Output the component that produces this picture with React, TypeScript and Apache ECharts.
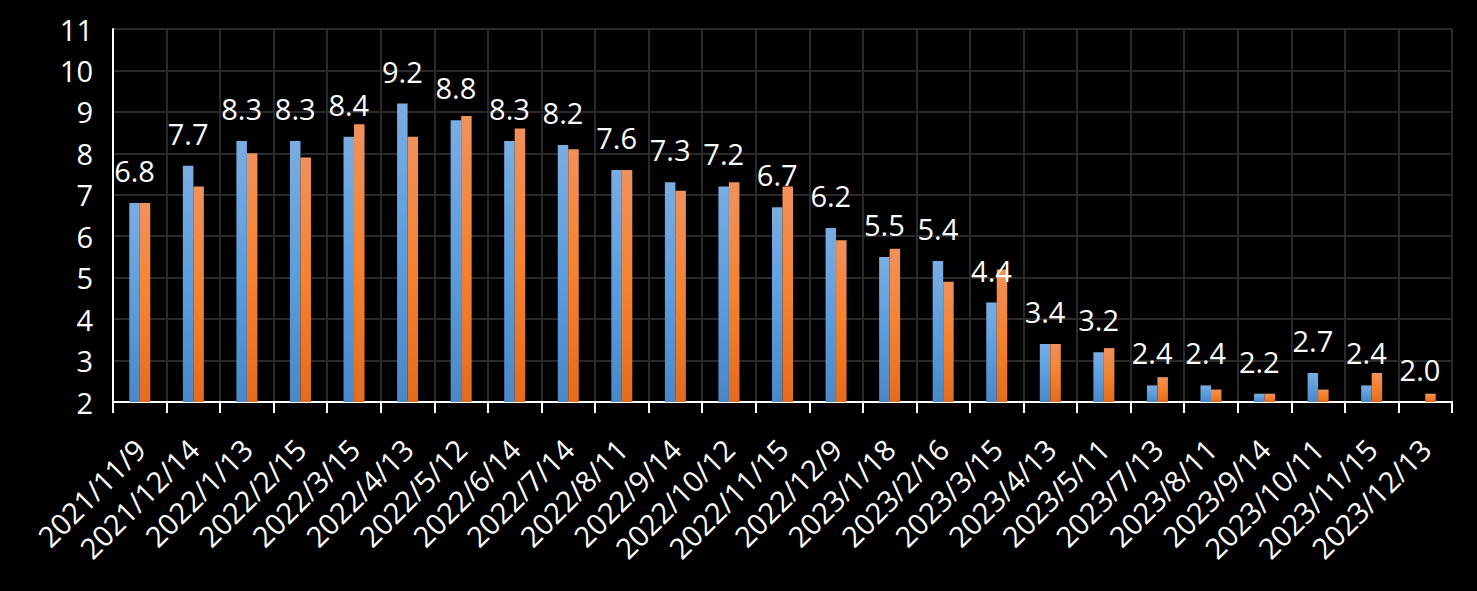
import React, { useEffect, useRef } from "react";
import * as echarts from "echarts";

const categories = [
  "2021/11/9", "2021/12/14", "2022/1/13", "2022/2/15", "2022/3/15", "2022/4/13",
  "2022/5/12", "2022/6/14", "2022/7/14", "2022/8/11", "2022/9/14", "2022/10/12",
  "2022/11/15", "2022/12/9", "2023/1/18", "2023/2/16", "2023/3/15", "2023/4/13",
  "2023/5/11", "2023/7/13", "2023/8/11", "2023/9/14", "2023/10/11", "2023/11/15",
  "2023/12/13",
];

const blueValues = [
  6.8, 7.7, 8.3, 8.3, 8.4, 9.2, 8.8, 8.3, 8.2, 7.6, 7.3, 7.2, 6.7, 6.2, 5.5, 5.4,
  4.4, 3.4, 3.2, 2.4, 2.4, 2.2, 2.7, 2.4, 2.0,
];

const orangeValues = [
  6.8, 7.2, 8.0, 7.9, 8.7, 8.4, 8.9, 8.6, 8.1, 7.6, 7.1, 7.3, 7.2, 5.9, 5.7, 4.9,
  5.2, 3.4, 3.3, 2.6, 2.3, 2.2, 2.3, 2.7, 2.2,
];

const yMin = 2;
const yMax = 11;
const yInterval = 1;

const FONT = "'Open Sans', 'Noto Sans', sans-serif";

export default function App() {
  const ref = useRef<HTMLDivElement>(null);

  useEffect(() => {
    if (!ref.current) return;
    const chart = echarts.init(ref.current, null, { renderer: "svg" });
    const blueGrad = new echarts.graphic.LinearGradient(0, 0, 0, 1, [
      { offset: 0, color: "#7aade2" },
      { offset: 0.5, color: "#5c9ddd" },
      { offset: 1, color: "#4a88c7" },
    ]);
    const orangeGrad = new echarts.graphic.LinearGradient(0, 0, 0, 1, [
      { offset: 0, color: "#f0915c" },
      { offset: 0.5, color: "#f5822e" },
      { offset: 1, color: "#e46c1c" },
    ]);
    chart.setOption({
      animation: false,
      backgroundColor: "#000000",
      grid: { left: 113, right: 25, top: 29, bottom: 189, containLabel: false },
      xAxis: {
        type: "category",
        data: categories,
        boundaryGap: true,
        axisLine: { show: true, lineStyle: { color: "#ffffff", width: 2 } },
        axisTick: { show: true, length: 11, interval: 0, lineStyle: { color: "#ffffff", width: 2 } },
        axisLabel: {
          interval: 0,
          rotate: 45,
          margin: 42,
          color: "#ffffff",
          fontSize: 29,
          fontFamily: FONT,
        },
        splitLine: { show: true, interval: 0, lineStyle: { color: "#2a2a2a", width: 2 } },
      },
      yAxis: {
        type: "value",
        min: yMin,
        max: yMax,
        interval: yInterval,
        axisLine: { show: true, lineStyle: { color: "#ffffff", width: 2 } },
        axisTick: { show: false },
        axisLabel: { color: "#ffffff", fontSize: 29, fontFamily: FONT, margin: 20 },
        splitLine: { show: true, lineStyle: { color: "#2a2a2a", width: 2 } },
      },
      series: [
        {
          type: "bar",
          data: blueValues,
          barWidth: 10.5,
          barGap: "0%",
          itemStyle: { color: blueGrad },
          label: {
            show: true,
            position: "top",
            distance: 18,
            color: "#ffffff",
            fontSize: 29,
            fontFamily: FONT,
            formatter: (p: any) => Number(p.value).toFixed(1),
          },
        },
        {
          type: "bar",
          data: orangeValues,
          barWidth: 10.5,
          barGap: "0%",
          itemStyle: { color: orangeGrad },
        },
      ],
    });
    return () => chart.dispose();
  }, []);

  return (
    <div
      ref={ref}
      style={{ position: "fixed", left: 0, top: 0, width: 1477, height: 591 }}
    />
  );
}
